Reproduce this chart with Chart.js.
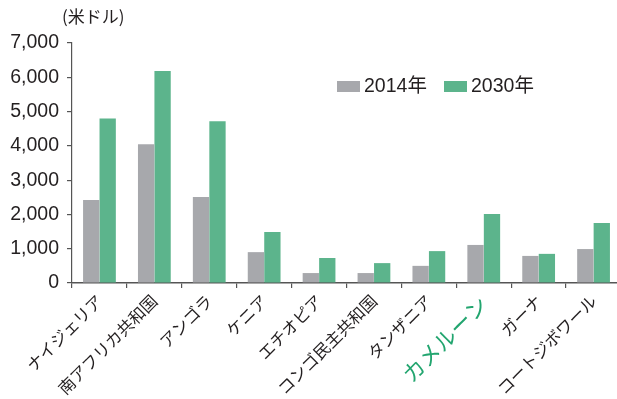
<!DOCTYPE html>
<html>
<head>
<meta charset="utf-8">
<script src="https://cdn.jsdelivr.net/npm/chart.js@4/dist/chart.umd.min.js"></script>
<style>
  html, body { margin: 0; padding: 0; background: #fff; overflow: hidden; }
  #wrap { position: relative; width: 621px; height: 399px; }
</style>
</head>
<body>
<div id="wrap"><canvas id="c" width="621" height="399"></canvas></div>
<script>
const categories = ["ナイジェリア", "南アフリカ共和国", "アンゴラ", "ケニア", "エチオピア", "コンゴ民主共和国", "タンザニア", "カメルーン", "ガーナ", "コートジボワール"];
const seriesNames = ["2014年", "2030年"];
const values2014 = [2420, 4050, 2510, 900, 290, 290, 500, 1110, 790, 990];
const values2030 = [4800, 6180, 4720, 1490, 730, 580, 930, 2010, 850, 1750];
const yTicks = [0, 1000, 2000, 3000, 4000, 5000, 6000, 7000];
const unitLabel = "(米ドル)";
const highlightCategory = "カメルーン";

const GRAY = "#a7a8ac";
const GREEN = "#5cb48c";
const TEXT = "#231f20";
const HL = "#22a56f";
const AXIS = "#555555";

const overlay = {
  id: "overlay",
  afterDraw(chart) {
    const ctx = chart.ctx;
    ctx.save();
    ctx.fillStyle = TEXT;
    ctx.font = '17px "Noto Sans CJK JP"';
    ctx.textAlign = "left";
    ctx.textBaseline = "middle";
    ctx.fillText(unitLabel, 62, 17);
    const items = chart.data.datasets;
    let x = 337;
    const y = 86.5;
    ctx.font = '19.5px "Liberation Sans", "Noto Sans CJK JP"';
    items.forEach((ds) => {
      ctx.fillStyle = ds.backgroundColor;
      ctx.fillRect(x, y - 5.5, 23, 11);
      ctx.fillStyle = TEXT;
      ctx.fillText(ds.label, x + 27, y + 0.5);
      x += 107;
    });
    ctx.restore();
  }
};

new Chart(document.getElementById("c"), {
  type: "bar",
  data: {
    labels: categories,
    datasets: [
      { label: seriesNames[0], data: values2014, backgroundColor: GRAY, borderWidth: 0 },
      { label: seriesNames[1], data: values2030, backgroundColor: GREEN, borderWidth: 0 }
    ]
  },
  options: {
    responsive: false,
    animation: false,
    devicePixelRatio: 1,
    layout: { padding: { top: 43, left: 0, right: 0, bottom: 0 } },
    plugins: { legend: { display: false }, tooltip: { enabled: false } },
    datasets: { bar: { categoryPercentage: 0.6, barPercentage: 0.99 } },
    scales: {
      x: {
        offset: true,
        grid: { offset: true, drawOnChartArea: false, drawTicks: true, tickLength: 5, color: AXIS, lineWidth: 1.2 },
        border: { display: true, color: AXIS, width: 1.5 },
        ticks: {
          autoSkip: false,
          maxRotation: 45,
          minRotation: 45,
          padding: 3,
          color: (c) => categories[c.index] === highlightCategory ? HL : TEXT,
          font: (c) => categories[c.index] === highlightCategory
            ? { family: '"Noto Sans CJK JP"', size: 22 }
            : { family: '"Noto Sans CJK JP"', size: 16.5 }
        },
        afterFit(scale) { scale.height = 116; }
      },
      y: {
        min: 0,
        max: 7000,
        afterBuildTicks(scale) { scale.ticks = yTicks.map(v => ({ value: v })); },
        grid: { drawOnChartArea: false, drawTicks: true, tickLength: 5, color: AXIS, lineWidth: 1.2 },
        border: { display: true, color: AXIS, width: 1.2 },
        ticks: {
          padding: 8,
          color: TEXT,
          font: { family: '"Liberation Sans"', size: 19.5 },
          callback: (v) => v.toLocaleString("en-US")
        },
        afterFit(scale) { scale.width = 72; }
      }
    }
  },
  plugins: [overlay]
});
</script>
</body>
</html>
